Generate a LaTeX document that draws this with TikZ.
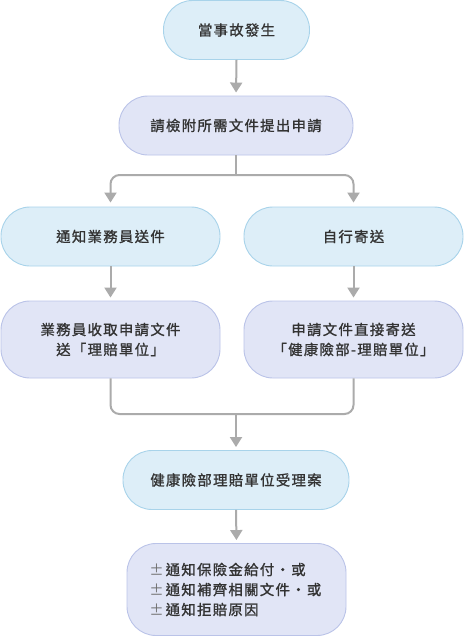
\documentclass[tikz,border=0pt]{standalone}
\usepackage{fontspec}
\setmainfont{Noto Sans CJK TC}[LetterSpace=9, FakeBold=1.2]
\newfontfamily\symfont{Noto Sans CJK TC}
\usetikzlibrary{arrows.meta}
\definecolor{bfill}{HTML}{DDEEF8}
\definecolor{bdraw}{HTML}{A8D3EA}
\definecolor{lfill}{HTML}{E1E5F6}
\definecolor{ldraw}{HTML}{BAC3E8}
\definecolor{conn}{HTML}{ABABAB}
\definecolor{txt}{HTML}{333333}
\newcommand{\pmmark}{{\symfont\color{txt!70}\makebox[10pt][c]{±}}\hspace{4pt}}
\begin{document}
\begin{tikzpicture}[x=1pt,y=-1pt,
  box/.style={rounded corners=29pt, line width=0.9pt, text=txt, font=\fontsize{14.4}{20}\selectfont, inner sep=0pt, align=center},
  bluebox/.style={box, fill=bfill, draw=bdraw},
  lavbox/.style={box, fill=lfill, draw=ldraw},
  link/.style={draw=conn, line width=2pt},
  arr/.style={link, -{Triangle[width=12pt,length=10pt]}, shorten >=3pt}]
\useasboundingbox (0,0) rectangle (464,637);
\node[bluebox, minimum width=146pt, minimum height=59pt] (n1) at (236.5,30) {當事故發生};
\node[lavbox, minimum width=234pt, minimum height=59pt] (n2) at (236,125.5) {請檢附所需文件提出申請};
\node[bluebox, minimum width=219pt, minimum height=59pt] (n3) at (110.5,236.5) {通知業務員送件};
\node[bluebox, minimum width=219pt, minimum height=59pt] (n4) at (353.5,236.5) {自行寄送};
\node[lavbox, minimum width=219pt, minimum height=77pt] (n5) at (110.5,339.5) {業務員收取申請文件\\送「理賠單位」};
\node[lavbox, minimum width=219pt, minimum height=77pt] (n6) at (353.5,339.5) {申請文件直接寄送\\「健康險部-理賠單位」};
\node[bluebox, minimum width=226pt, minimum height=59pt] (n7) at (236,480) {健康險部理賠單位受理案};
\node[lavbox, minimum width=219pt, minimum height=92pt, align=left] (n8) at (236.5,589.5) {\pmmark 通知保險金給付・或\\\pmmark 通知補齊相關文件・或\\\pmmark 通知拒賠原因};
\coordinate (split) at (236,175);
\coordinate (merge) at (236,414);
\draw[arr] (n1.south) -- (n2.north);
\draw[link] (n2.south) -- (split);
\draw[arr, rounded corners=9pt, shorten >=4pt] (split) -| (n3.north);
\draw[arr, rounded corners=9pt, shorten >=4pt] (split) -| (n4.north);
\draw[arr] (n3.south) -- (n5.north);
\draw[arr] (n4.south) -- (n6.north);
\draw[link, rounded corners=9pt] (n5.south) |- (merge);
\draw[link, rounded corners=9pt] (n6.south) |- (merge);
\draw[arr] (merge) -- (n7.north);
\draw[arr] (n7.south) -- (n8.north);
\end{tikzpicture}
\end{document}
